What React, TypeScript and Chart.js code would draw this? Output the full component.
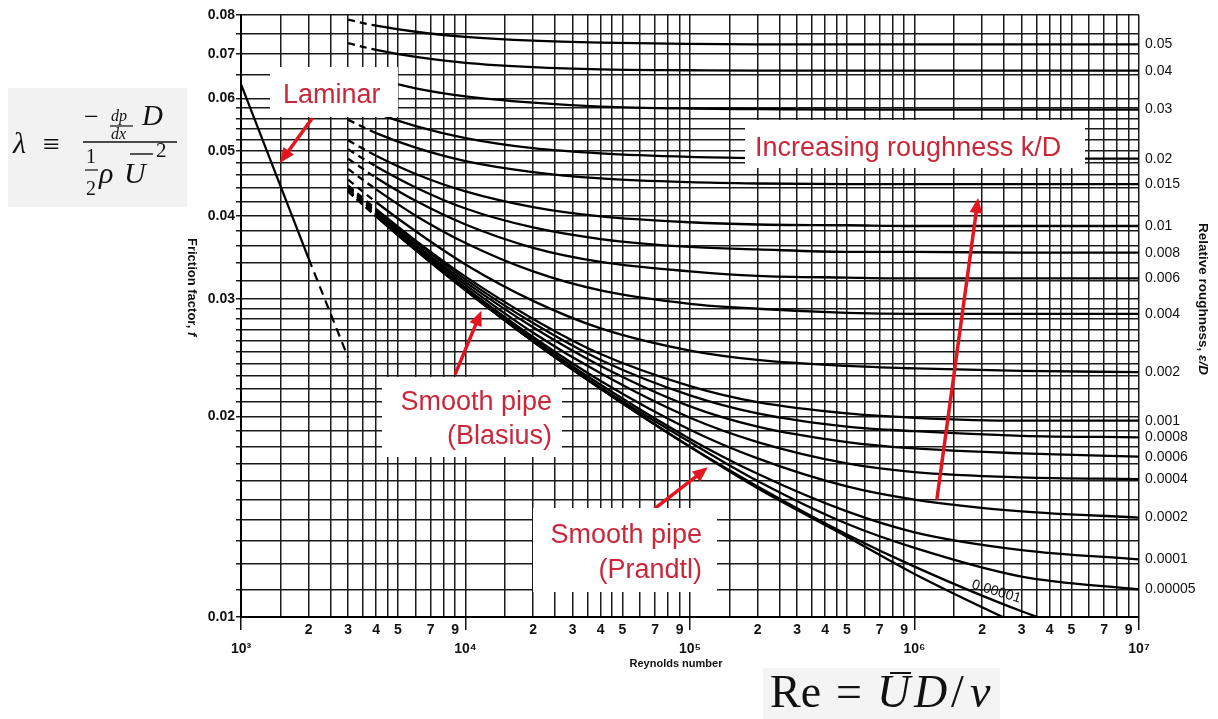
import React, { useEffect, useRef } from 'react';
import { Chart, registerables } from 'chart.js';

Chart.register(...registerables);

// ---------- data ----------
const RE = [3000, 4000, 6000, 10000, 20000, 40000, 100000, 200000, 500000, 1000000, 3000000, 10000000];

const F_0_05 = [0.0787, 0.0771, 0.0755, 0.0742, 0.0732, 0.0727, 0.0724, 0.0723, 0.0723, 0.0723, 0.0723, 0.0723];
const F_0_04 = [0.0726, 0.0709, 0.0692, 0.0678, 0.0668, 0.0663, 0.0661, 0.0660, 0.0660, 0.0660, 0.0660, 0.0660];
const F_0_03 = [0.0662, 0.0642, 0.0621, 0.0604, 0.0591, 0.0583, 0.0579, 0.0578, 0.0577, 0.0577, 0.0577, 0.0577];
const F_0_02 = [0.0593, 0.0570, 0.0545, 0.0523, 0.0505, 0.0496, 0.0490, 0.0488, 0.0487, 0.0487, 0.0487, 0.0487];
const F_0_015 = [0.0557, 0.0532, 0.0506, 0.0483, 0.0465, 0.0455, 0.0449, 0.0447, 0.0446, 0.0446, 0.0446, 0.0446];
const F_0_01 = [0.0519, 0.0492, 0.0462, 0.0435, 0.0412, 0.0399, 0.0391, 0.0388, 0.0387, 0.0386, 0.0386, 0.0386];
const F_0_008 = [0.0503, 0.0474, 0.0441, 0.0410, 0.0384, 0.0369, 0.0359, 0.0356, 0.0353, 0.0353, 0.0352, 0.0352];
const F_0_006 = [0.0487, 0.0456, 0.0421, 0.0388, 0.0358, 0.0341, 0.0330, 0.0325, 0.0323, 0.0322, 0.0322, 0.0322];
const F_0_004 = [0.0470, 0.0438, 0.0400, 0.0364, 0.0330, 0.0309, 0.0295, 0.0290, 0.0286, 0.0285, 0.0285, 0.0285];
const F_0_002 = [0.0453, 0.0419, 0.0379, 0.0338, 0.0298, 0.0271, 0.0251, 0.0243, 0.0238, 0.0236, 0.0234, 0.0233];
const F_0_001 = [0.0444, 0.0409, 0.0367, 0.0324, 0.0280, 0.0248, 0.0222, 0.0210, 0.0202, 0.0199, 0.0197, 0.0197];
const F_0_0008 = [0.0442, 0.0407, 0.0365, 0.0321, 0.0276, 0.0243, 0.0215, 0.0202, 0.0193, 0.0190, 0.0187, 0.0186];
const F_0_0006 = [0.0440, 0.0405, 0.0362, 0.0318, 0.0272, 0.0238, 0.0207, 0.0193, 0.0183, 0.0179, 0.0176, 0.0174];
const F_0_0004 = [0.0439, 0.0403, 0.0360, 0.0315, 0.0267, 0.0232, 0.0199, 0.0183, 0.0170, 0.0165, 0.0162, 0.0161];
const F_0_0002 = [0.0437, 0.0401, 0.0358, 0.0312, 0.0263, 0.0226, 0.0191, 0.0173, 0.0157, 0.0150, 0.0144, 0.0141];
const F_0_0001 = [0.0436, 0.0400, 0.0356, 0.0311, 0.0261, 0.0223, 0.0185, 0.0164, 0.0144, 0.0134, 0.0126, 0.0122];
const F_0_00005 = [0.0436, 0.0400, 0.0356, 0.0310, 0.0260, 0.0221, 0.0183, 0.0160, 0.0138, 0.0127, 0.0115, 0.0110];
const F_0_00001 = [0.0435, 0.0399, 0.0355, 0.0309, 0.0259, 0.0220, 0.0180, 0.0157, 0.0133, 0.0119, 0.0102, 0.0089];
const F_SMOOTH = [0.0435, 0.0399, 0.0355, 0.0309, 0.0259, 0.0220, 0.0180, 0.0156, 0.0132, 0.0116, 0.0097, 0.0081];

const ROUGHNESS = ['0.05', '0.04', '0.03', '0.02', '0.015', '0.01', '0.008', '0.006', '0.004', '0.002',
  '0.001', '0.0008', '0.0006', '0.0004', '0.0002', '0.0001', '0.00005', '0.00001', 'smooth'];
const CURVES = [F_0_05, F_0_04, F_0_03, F_0_02, F_0_015, F_0_01, F_0_008, F_0_006, F_0_004, F_0_002,
  F_0_001, F_0_0008, F_0_0006, F_0_0004, F_0_0002, F_0_0001, F_0_00005, F_0_00001, F_SMOOTH];
// curves labelled on the right-hand axis (the first 17)
const RIGHT_LABEL_COUNT = 17;

const LAMINAR_RE = [1000, 2000, 3000];
const LAMINAR_F = [0.0630, 0.0345, 0.0245];

// axis grid / tick labels
const X_DECADES = [3, 4, 5, 6, 7];
const X_DECADE_LABELS = ['10³', '10⁴', '10⁵', '10⁶', '10⁷'];
const X_MANTISSAS = [1, 1.5, 2, 2.5, 3, 3.5, 4, 4.5, 5, 6, 7, 8, 9];
const X_LABELED_MANTISSAS = [2, 3, 4, 5, 7, 9];

const Y_GRID = [0.010, 0.011, 0.012, 0.013, 0.014, 0.015, 0.016, 0.017, 0.018, 0.019, 0.020, 0.021, 0.022,
  0.023, 0.024, 0.025, 0.026, 0.027, 0.028, 0.029, 0.030, 0.032, 0.034, 0.036, 0.038, 0.040, 0.042, 0.044,
  0.046, 0.048, 0.050, 0.052, 0.054, 0.056, 0.058, 0.060, 0.065, 0.070, 0.075, 0.080];
const Y_LABELED = [0.01, 0.02, 0.03, 0.04, 0.05, 0.06, 0.07, 0.08];

// annotation arrows, in data coordinates (Re, f)
const ARROW_FROM_RE = [2060, 9030, 70000, 1260000];
const ARROW_FROM_F = [0.0558, 0.0232, 0.01456, 0.01507];
const ARROW_TO_RE = [1490, 11770, 120000, 1920000];
const ARROW_TO_F = [0.0480, 0.0288, 0.01677, 0.0425];

// ---------- derived tables for the library ----------
const X_TICKS: number[] = [];
const X_TICK_LABELS: (string | string[])[] = [];
const X_IS_DECADE: boolean[] = [];
X_DECADES.forEach((d, di) => {
  const base = Math.pow(10, d);
  const ms = di === X_DECADES.length - 1 ? [1] : X_MANTISSAS;
  ms.forEach((m) => {
    X_TICKS.push(m * base);
    if (m === 1) {
      X_TICK_LABELS.push(['', X_DECADE_LABELS[di]]);
      X_IS_DECADE.push(true);
    } else {
      X_TICK_LABELS.push(X_LABELED_MANTISSAS.includes(m) ? String(m) : '');
      X_IS_DECADE.push(false);
    }
  });
});
const Y_TICK_LABELS = Y_GRID.map((v) => (Y_LABELED.includes(v) ? v.toFixed(2) : ''));
const RIGHT_VALUES = CURVES.slice(0, RIGHT_LABEL_COUNT).map((c) => c[c.length - 1]);
const RIGHT_LABELS = ROUGHNESS.slice(0, RIGHT_LABEL_COUNT);

const INK = '#111111';
const RED = '#e3161f';

const arrowPlugin = {
  id: 'annotArrows',
  afterDatasetsDraw(chart: any) {
    const { ctx, scales } = chart;
    const xs = scales.x;
    const ys = scales.y;
    ctx.save();
    ctx.strokeStyle = RED;
    ctx.fillStyle = RED;
    ctx.lineWidth = 3.5;
    ctx.lineCap = 'round';
    ARROW_FROM_RE.forEach((_, i) => {
      const x0 = xs.getPixelForValue(ARROW_FROM_RE[i]);
      const y0 = ys.getPixelForValue(ARROW_FROM_F[i]);
      const x1 = xs.getPixelForValue(ARROW_TO_RE[i]);
      const y1 = ys.getPixelForValue(ARROW_TO_F[i]);
      const ang = Math.atan2(y1 - y0, x1 - x0);
      const hl = 15;
      const hw = 6.5;
      const bx = x1 - hl * Math.cos(ang);
      const by = y1 - hl * Math.sin(ang);
      ctx.beginPath();
      ctx.moveTo(x0, y0);
      ctx.lineTo(bx, by);
      ctx.stroke();
      ctx.beginPath();
      ctx.moveTo(x1, y1);
      ctx.lineTo(bx + hw * Math.sin(ang), by - hw * Math.cos(ang));
      ctx.lineTo(bx - hw * Math.sin(ang), by + hw * Math.cos(ang));
      ctx.closePath();
      ctx.fill();
    });
    ctx.restore();
  },
};

export default function App() {
  const canvasRef = useRef<HTMLCanvasElement>(null);

  useEffect(() => {
    if (!canvasRef.current) return;
    const datasets: any[] = CURVES.map((curve, k) => ({
      label: 'ε/D = ' + ROUGHNESS[k],
      data: RE.map((re, i) => ({ x: re, y: curve[i] })),
      borderColor: '#000',
      borderWidth: 2.3,
      pointRadius: 0,
      fill: false,
      cubicInterpolationMode: 'monotone',
      segment: { borderDash: (c: any) => (c.p0DataIndex === 0 ? [7, 5] : undefined) },
    }));
    datasets.push({
      label: 'Laminar',
      data: LAMINAR_RE.map((re, i) => ({ x: re, y: LAMINAR_F[i] })),
      borderColor: '#000',
      borderWidth: 2.2,
      pointRadius: 0,
      fill: false,
      tension: 0,
      segment: { borderDash: (c: any) => (c.p0DataIndex === 1 ? [9, 6] : undefined) },
    });

    const tickFont = { family: 'Liberation Sans', size: 14, weight: 'bold' as const };

    const chart = new Chart(canvasRef.current, {
      type: 'line',
      data: { datasets },
      plugins: [arrowPlugin],
      options: {
        responsive: false,
        animation: false,
        devicePixelRatio: 1,
        layout: { padding: { top: 15, left: 0, right: 0, bottom: 0 } },
        plugins: { legend: { display: false }, tooltip: { enabled: false } },
        scales: {
          x: {
            type: 'logarithmic',
            position: 'bottom',
            min: 1000,
            max: 10000000,
            afterBuildTicks: (s: any) => {
              s.ticks = X_TICKS.map((v) => ({ value: v }));
            },
            afterFit: (s: any) => {
              s.height = 102;
            },
            ticks: {
              autoSkip: false,
              maxRotation: 0,
              minRotation: 0,
              padding: -10,
              color: INK,
              font: { ...tickFont, lineHeight: 1.4 },
              callback: (_v: any, i: number) => X_TICK_LABELS[i],
            },
            grid: {
              color: '#1a1a1a',
              lineWidth: 1.5,
              tickLength: 13,
              tickWidth: 1.5,
              tickColor: (c: any) => (X_IS_DECADE[c.index] ? INK : 'rgba(0,0,0,0)'),
            },
            border: { color: '#000', width: 2 },
          },
          y: {
            type: 'logarithmic',
            position: 'left',
            min: 0.01,
            max: 0.08,
            afterBuildTicks: (s: any) => {
              s.ticks = Y_GRID.map((v) => ({ value: v }));
            },
            afterFit: (s: any) => {
              s.width = 241;
            },
            ticks: {
              autoSkip: false,
              padding: 1,
              color: INK,
              font: tickFont,
              callback: (_v: any, i: number) => Y_TICK_LABELS[i],
            },
            grid: { color: '#1a1a1a', lineWidth: 1.5, tickLength: 5 },
            border: { color: '#000', width: 2 },
          },
          yr: {
            type: 'logarithmic',
            position: 'right',
            min: 0.01,
            max: 0.08,
            afterBuildTicks: (s: any) => {
              s.ticks = RIGHT_VALUES.map((v) => ({ value: v }));
            },
            afterFit: (s: any) => {
              s.width = 79;
            },
            ticks: {
              autoSkip: false,
              padding: 6,
              color: INK,
              font: { family: 'Liberation Sans', size: 14 },
              callback: (_v: any, i: number) => RIGHT_LABELS[i],
            },
            grid: { display: false, drawTicks: false },
            border: { display: false },
          },
        },
      } as any,
    });
    return () => chart.destroy();
  }, []);

  const serif = 'Liberation Serif, DejaVu Serif, serif';
  const sans = 'Liberation Sans, Arial, sans-serif';
  const red = '#c8283a';

  return (
    <div style={{ position: 'absolute', left: 0, top: 0, width: 1218, height: 719, background: '#fff', overflow: 'hidden' }}>
      <canvas ref={canvasRef} width={1218} height={719} style={{ position: 'absolute', left: 0, top: 0, width: 1218, height: 719 }} />
      <svg width={1218} height={719} style={{ position: 'absolute', left: 0, top: 0, pointerEvents: 'none' }}>
        {/* friction factor definition */}
        <rect x={8} y={88} width={179} height={119} fill="#f2f2f2" />
        <g fontFamily={serif} fill="#111">
          <text x={13} y={153} fontSize={30} fontStyle="italic">λ</text>
          <text x={43} y={154} fontSize={30}>≡</text>
          <text x={84} y={125} fontSize={26}>−</text>
          <text x={111} y={121} fontSize={16} fontStyle="italic">dp</text>
          <line x1={110} y1={126} x2={133} y2={126} stroke="#111" strokeWidth={1.2} />
          <text x={111} y={139} fontSize={16} fontStyle="italic">dx</text>
          <text x={142} y={125} fontSize={29} fontStyle="italic">D</text>
          <line x1={83} y1={142} x2={177} y2={142} stroke="#111" strokeWidth={1.4} />
          <text x={86} y={163} fontSize={20}>1</text>
          <line x1={85} y1={170} x2={98} y2={170} stroke="#111" strokeWidth={1.2} />
          <text x={86} y={195} fontSize={20}>2</text>
          <text x={99} y={183} fontSize={30} fontStyle="italic">ρ</text>
          <line x1={130} y1={154} x2={153} y2={154} stroke="#111" strokeWidth={1.4} />
          <text x={124} y={183} fontSize={30} fontStyle="italic">U</text>
          <text x={156} y={157} fontSize={21}>2</text>
        </g>

        {/* Reynolds number definition */}
        <rect x={763} y={668} width={237} height={51} fill="#f4f4f4" />
        <g fontFamily={serif} fill="#111" fontSize={46}>
          <text x={770} y={707}>Re</text>
          <text x={836} y={707}>=</text>
          <text x={877} y={707} fontStyle="italic">U</text>
          <line x1={890} y1={673} x2={911} y2={673} stroke="#111" strokeWidth={2} />
          <text x={914} y={707} fontStyle="italic">D</text>
          <text x={951} y={707}>/</text>
          <text x={970} y={707} fontStyle="italic">ν</text>
        </g>

        {/* axis titles */}
        <text transform="translate(188,238) rotate(90)" fontFamily={sans} fontWeight="bold" fontSize={13} fill="#111">
          Friction factor, <tspan fontStyle="italic">f</tspan>
        </text>
        <text transform="translate(1199,223) rotate(90)" fontFamily={sans} fontWeight="bold" fontSize={13.5} fill="#111">
          Relative roughness, <tspan fontStyle="italic">ε/D</tspan>
        </text>
        <text x={676} y={667} textAnchor="middle" fontFamily={sans} fontWeight="bold" fontSize={11} fill="#111">
          Reynolds number
        </text>

        {/* on-curve label */}
        <text transform="translate(971,588) rotate(17)" fontFamily={sans} fontSize={14} fill="#111">0.00001</text>

        {/* annotation boxes */}
        <g fontFamily={sans} fontSize={27} fill={red}>
          <rect x={270} y={67} width={128} height={50} fill="#fff" />
          <text x={283} y={103}>Laminar</text>

          <rect x={745} y={120} width={340} height={48} fill="#fff" />
          <text x={755} y={156}>Increasing roughness k/D</text>

          <rect x={382} y={377} width={180} height={80} fill="#fff" />
          <text x={552} y={410} textAnchor="end">Smooth pipe</text>
          <text x={552} y={444} textAnchor="end">(Blasius)</text>

          <rect x={533} y={508} width={184} height={84} fill="#fff" />
          <text x={702} y={543} textAnchor="end">Smooth pipe</text>
          <text x={702} y={578} textAnchor="end">(Prandtl)</text>
        </g>
      </svg>
    </div>
  );
}
